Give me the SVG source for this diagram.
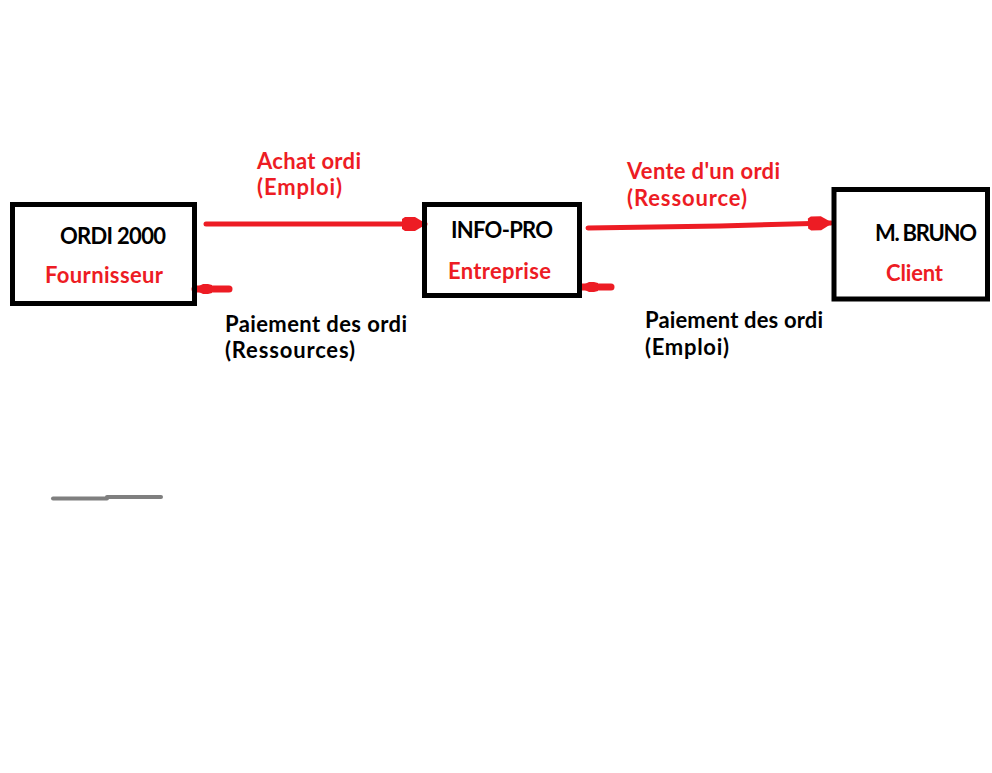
<svg xmlns="http://www.w3.org/2000/svg" width="992" height="773" viewBox="0 0 992 773">
<defs>
<style>
.box{fill:none;stroke:#000;stroke-width:5}
.t{font-family:Lato,"Open Sans","Liberation Sans",sans-serif;font-size:22px;font-weight:700}
.blk{fill:#000}
.red{fill:#ed1c24}
.con{stroke:#ed1c24;stroke-linecap:round;fill:none}
</style>
<marker id="head" markerUnits="userSpaceOnUse" markerWidth="30" markerHeight="20" refX="23" refY="0" viewBox="-2 -10 30 20" orient="auto" overflow="visible">
<path d="M0,-5 L3,-7 L13,-7 L23,-1 L23,1 L13,7 L3,7 L0,5 Z" fill="#ed1c24"/>
</marker>
<marker id="shead" markerUnits="userSpaceOnUse" markerWidth="24" markerHeight="16" refX="17" refY="0" viewBox="-2 -8 24 16" orient="auto" overflow="visible">
<path d="M0,-4 L4,-5 L9,-5 L17,-1 L17,1 L9,5 L4,5 L0,4 Z" fill="#ed1c24"/>
</marker>
</defs>
<rect width="992" height="773" fill="#fff"/>
<g id="connectors">
<line class="con" x1="206" y1="224" x2="425" y2="224" stroke-width="5" marker-end="url(#head)"/>
<path class="con" d="M588,228 L720,226 L831,223" stroke-width="5" marker-end="url(#head)"/>
<line class="con" x1="229" y1="289" x2="195" y2="289" stroke-width="7" marker-end="url(#shead)"/>
<line class="con" x1="611" y1="287" x2="581" y2="287" stroke-width="7" marker-end="url(#shead)"/>
<text class="t red" x="257" y="169" textLength="104">Achat ordi</text>
<text class="t red" x="257" y="195" textLength="85">(Emploi)</text>
<text class="t blk" x="225" y="332" textLength="182">Paiement des ordi</text>
<text class="t blk" x="225" y="358" textLength="130">(Ressources)</text>
<text class="t red" x="627" y="179" textLength="153">Vente d'un ordi</text>
<text class="t red" x="627" y="206" textLength="120">(Ressource)</text>
<text class="t blk" x="645" y="328" textLength="178">Paiement des ordi</text>
<text class="t blk" x="645" y="355" textLength="84">(Emploi)</text>
</g>
<g id="ordi2000">
<rect class="box" x="12.5" y="204.5" width="182" height="99"/>
<text class="t blk" x="60" y="244" textLength="106">ORDI 2000</text>
<text class="t red" x="45" y="283" textLength="118">Fournisseur</text>
</g>
<g id="infopro">
<rect class="box" x="424.5" y="204.5" width="155" height="91"/>
<text class="t blk" x="451" y="238" textLength="102">INFO-PRO</text>
<text class="t red" x="448" y="279" textLength="103">Entreprise</text>
</g>
<g id="mbruno">
<rect class="box" x="834" y="189.5" width="153.5" height="109.5"/>
<text class="t blk" x="875" y="241" textLength="102">M. BRUNO</text>
<text class="t red" x="886" y="281" textLength="57">Client</text>
</g>
<g id="trait">
<line x1="53" y1="498.5" x2="107" y2="498.5" stroke="#7f7f7f" stroke-width="4" stroke-linecap="round"/>
<line x1="107" y1="497" x2="161" y2="497" stroke="#7f7f7f" stroke-width="4" stroke-linecap="round"/>
</g>
</svg>
